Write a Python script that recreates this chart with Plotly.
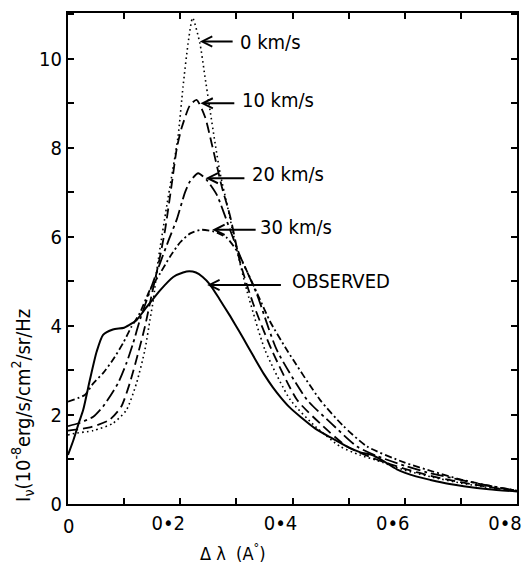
import plotly.graph_objects as go

# ---------------- data ----------------
obs_x = [0, 0.01, 0.02, 0.027, 0.039, 0.051, 0.0625, 0.08, 0.1, 0.113, 0.122, 0.14, 0.164, 0.1875,
         0.205, 0.216, 0.228, 0.24, 0.253, 0.27, 0.289, 0.305, 0.32, 0.335, 0.35, 0.365, 0.38, 0.395,
         0.414, 0.44, 0.467, 0.5, 0.521, 0.542, 0.56, 0.586, 0.62, 0.646, 0.68, 0.705, 0.75, 0.8]
obs_y = [1.1, 1.45, 1.85, 2.11, 2.79, 3.42, 3.8, 3.92, 3.96, 4.05, 4.13, 4.42, 4.8, 5.1,
         5.2, 5.23, 5.2, 5.1, 4.93, 4.6, 4.22, 3.88, 3.55, 3.22, 2.9, 2.62, 2.38, 2.17,
         1.96, 1.7, 1.5, 1.27, 1.16, 1.1, 0.98, 0.78, 0.62, 0.54, 0.45, 0.40, 0.33, 0.28]

v0_x = [0, 0.009, 0.045, 0.08, 0.104, 0.122, 0.137, 0.146, 0.152, 0.161, 0.176, 0.196, 0.205, 0.214,
        0.222, 0.235, 0.244, 0.253, 0.262, 0.271, 0.283, 0.3, 0.319, 0.351, 0.396, 0.44, 0.485, 0.52,
        0.55, 0.6, 0.65, 0.7, 0.75, 0.8]
v0_y = [1.55, 1.58, 1.65, 1.81, 2.11, 2.71, 3.46, 4.13, 4.58, 5.5, 6.7, 8.25, 9.38, 10.35,
        10.92, 10.35, 9.6, 8.85, 8.11, 7.43, 6.75, 5.75, 4.78, 3.46, 2.34, 1.75, 1.29, 1.1,
        0.98, 0.76, 0.6, 0.47, 0.37, 0.29]

v10_x = [0, 0.039, 0.074, 0.095, 0.11, 0.125, 0.137, 0.15, 0.163, 0.173, 0.185, 0.194, 0.2025, 0.217,
         0.229, 0.244, 0.256, 0.274, 0.289, 0.307, 0.33, 0.363, 0.408, 0.45, 0.497, 0.55, 0.6, 0.65,
         0.7, 0.75, 0.8]
v10_y = [1.65, 1.72, 1.89, 2.19, 2.71, 3.39, 3.98, 4.75, 5.5, 6.16, 7.2, 8.0, 8.45, 8.95,
         9.08, 8.7, 8.1, 7.13, 6.46, 5.41, 4.5, 3.46, 2.34, 1.8, 1.29, 1.0, 0.79, 0.62,
         0.49, 0.38, 0.29]

v20_x = [0, 0.02, 0.045, 0.0625, 0.089, 0.104, 0.116, 0.128, 0.145, 0.164, 0.18, 0.194, 0.2085, 0.2175,
         0.232, 0.247, 0.265, 0.289, 0.307, 0.336, 0.372, 0.426, 0.47, 0.515, 0.55, 0.6, 0.64, 0.7,
         0.75, 0.8]
v20_y = [1.75, 1.82, 1.96, 2.19, 2.71, 3.16, 3.61, 4.13, 4.75, 5.41, 5.95, 6.4, 7.0, 7.25,
         7.43, 7.28, 6.95, 6.15, 5.56, 4.73, 3.46, 2.34, 1.8, 1.29, 1.08, 0.86, 0.71, 0.54,
         0.41, 0.3]

v30_x = [0, 0.03, 0.045, 0.0625, 0.08, 0.098, 0.113, 0.128, 0.146, 0.164, 0.182, 0.2, 0.218, 0.238,
         0.26, 0.283, 0.3, 0.32, 0.34, 0.36, 0.39, 0.449, 0.49, 0.533, 0.6, 0.65, 0.7, 0.75, 0.8]
v30_y = [2.3, 2.45, 2.71, 2.94, 3.24, 3.61, 3.98, 4.29, 4.81, 5.18, 5.56, 5.88, 6.08, 6.16,
         6.12, 5.98, 5.7, 5.2, 4.65, 4.1, 3.46, 2.34, 1.76, 1.29, 0.93, 0.73, 0.55, 0.41, 0.3]

labels = ["0 km/s", "10 km/s", "20 km/s", "30 km/s", "OBSERVED"]
# arrow tip (on curve) and tail x, arrow y, label left x / label y
arrow_tip_x = [0.235, 0.236, 0.245, 0.257, 0.248]
arrow_tail_x = [0.296, 0.299, 0.317, 0.337, 0.382]
arrow_y = [10.39, 9.0, 7.32, 6.16, 4.92]
label_x = [0.303, 0.306, 0.324, 0.339, 0.396]
label_y = [10.38, 9.08, 7.42, 6.22, 5.02]

x_origin_label = "0"
x_tick_vals = [0.2, 0.4, 0.6, 0.8]
x_tick_text = ["0•2", "0•4", "0•6", "0•8"]
y_tick_vals = [0, 2, 4, 6, 8, 10]
y_tick_text = ["0", "2", "4", "6", "8", "10"]

FONT = "DejaVu Sans Condensed, DejaVu Sans, sans-serif"

fig = go.Figure()

series = [
    (v0_x, v0_y, "1.6px,3.2px", 1.6),
    (v10_x, v10_y, "10px,5px", 1.8),
    (v20_x, v20_y, "13px,4px,3px,4px", 1.8),
    (v30_x, v30_y, "7px,3px,2px,3px", 1.8),
    (obs_x, obs_y, "solid", 2.0),
]
for (xs, ys, dash, w), name in zip(series, labels):
    fig.add_trace(go.Scatter(x=xs, y=ys, mode="lines", name=name,
                             line=dict(color="black", width=w, dash=dash,
                                       shape="spline", smoothing=0.6),
                             showlegend=False, hoverinfo="skip"))

annotations = []
for i, lab in enumerate(labels):
    annotations.append(dict(x=arrow_tip_x[i], y=arrow_y[i], ax=arrow_tail_x[i], ay=arrow_y[i],
                            xref="x", yref="y", axref="x", ayref="y", text="",
                            showarrow=True, arrowhead=5, arrowsize=1.0, arrowwidth=2,
                            arrowcolor="black"))
    annotations.append(dict(x=label_x[i], y=label_y[i], xref="x", yref="y", text=lab,
                            showarrow=False, xanchor="left", yanchor="middle",
                            font=dict(family=FONT, size=20, color="black")))

# origin label of the x axis (sits centred on its tick, unlike the others)
annotations.append(dict(x=0, y=0, xref="x", yref="paper", text=x_origin_label,
                        showarrow=False, xanchor="center", yanchor="top", yshift=-8,
                        font=dict(family=FONT, size=20, color="black")))

annotations.append(dict(x=0.367, y=-0.098, xref="paper", yref="paper",
                        text="Δ λ  (A<sup>°</sup>)", showarrow=False,
                        xanchor="center", yanchor="middle",
                        font=dict(family=FONT, size=18, color="black")))
annotations.append(dict(x=-0.1, y=0.2, xref="paper", yref="paper",
                        text="I<sub>ν</sub>(10<sup>-8</sup>erg/s/cm<sup>2</sup>/sr/Hz",
                        showarrow=False, textangle=-90,
                        xanchor="center", yanchor="middle",
                        font=dict(family=FONT, size=20, color="black")))

fig.update_layout(
    width=526, height=565,
    margin=dict(l=68, r=9, t=13, b=61, autoexpand=False),
    paper_bgcolor="white", plot_bgcolor="white",
    annotations=annotations,
    font=dict(family=FONT, size=20, color="black"),
)
fig.update_xaxes(range=[0, 0.8], tickmode="array", tickvals=x_tick_vals, ticktext=x_tick_text,
                 ticklabelshift=-12,
                 ticks="inside", ticklen=6, tickwidth=2, tickcolor="black",
                 minor=dict(dtick=0.1, tick0=0, ticks="inside", ticklen=6, tickwidth=2,
                            tickcolor="black"),
                 showline=True, linecolor="black", linewidth=2, mirror="ticks",
                 showgrid=False, zeroline=False, ticklabeloverflow="allow", automargin=False,
                 tickfont=dict(family=FONT, size=20, color="black"))
fig.update_yaxes(range=[0, 11.03], tickmode="array", tickvals=y_tick_vals, ticktext=y_tick_text,
                 ticks="inside", ticklen=6, tickwidth=2, tickcolor="black",
                 minor=dict(dtick=1, ticks="inside", ticklen=6, tickwidth=2, tickcolor="black"),
                 showline=True, linecolor="black", linewidth=2, mirror="ticks",
                 showgrid=False, zeroline=False, automargin=False,
                 tickfont=dict(family=FONT, size=20, color="black"))

fig.write_html("out.html")
